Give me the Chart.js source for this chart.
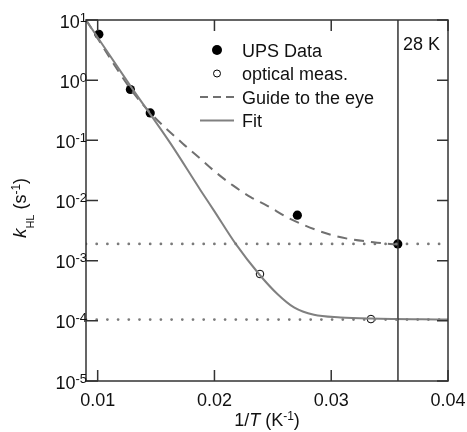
<!DOCTYPE html>
<html>
<head>
<meta charset="utf-8">
<script src="https://cdn.jsdelivr.net/npm/chart.js@4"></script>
<style>
  body { margin: 0; background: #fff; }
  canvas { display: block; }
</style>
</head>
<body>
<canvas id="grafico" width="467" height="432"></canvas>
<script>
// values
const upsX = [0.0101, 0.0128, 0.0145, 0.0271, 0.0357];
const upsY = [5.8, 0.70, 0.285, 0.0057, 0.0019];

const optX = [0.0239, 0.0334];
const optY = [6.0e-4, 1.07e-4];

const guideX = [0.009, 0.01283, 0.01454, 0.0173, 0.01873, 0.0201, 0.02158, 0.0231, 0.02453, 0.02644, 0.03021, 0.03363, 0.03574];
const guideY = [10, 0.708, 0.282, 0.088, 0.0507, 0.0296, 0.0178, 0.0114, 0.00816, 0.00501, 0.00261, 0.00202, 0.00185];

const fitX = [0.009, 0.01283, 0.01625, 0.01882, 0.01996, 0.02182, 0.02381, 0.02539, 0.02681, 0.02852, 0.0308, 0.03337, 0.04];
const fitY = [10, 0.79, 0.088, 0.0147, 0.0068, 0.0019, 6.0e-4, 2.79e-4, 1.67e-4, 1.26e-4, 1.14e-4, 1.09e-4, 1.05e-4];

const levels = [1.9e-3, 1.05e-4];
const tempK = 28;

const xMin = 0.009, xMax = 0.04;
const xTicks = [0.01, 0.02, 0.03, 0.04];
const yExp = [1, 0, -1, -2, -3, -4, -5];

const legendLabels = ['UPS Data', 'optical meas.', 'Guide to the eye', 'Fit'];

const FONT = "'Liberation Sans', Arial, sans-serif";
const INK = '#333';
const GRAY = '#808080';

const pts = (xs, ys) => xs.map((x, i) => ({ x: x, y: ys[i] }));

function fnt(p) {
  return (p.i ? 'italic ' : '') + (p.s || 18) + 'px ' + FONT;
}

function drawParts(ctx, parts, x, y, align) {
  let w = 0;
  parts.forEach(p => { ctx.font = fnt(p); w += ctx.measureText(p.t).width; });
  let cx = align === 'right' ? x - w : align === 'center' ? x - w / 2 : x;
  parts.forEach(p => {
    ctx.font = fnt(p);
    ctx.fillText(p.t, cx, y + (p.dy || 0));
    cx += ctx.measureText(p.t).width;
  });
}

const decor = {
  id: 'decor',
  afterDatasetsDraw(chart) {
    const ctx = chart.ctx;
    const a = chart.chartArea;
    const sx = chart.scales.x, sy = chart.scales.y;
    ctx.save();
    ctx.strokeStyle = INK;
    ctx.fillStyle = '#111';
    ctx.lineWidth = 1.5;
    ctx.strokeRect(a.left, a.top, a.right - a.left, a.bottom - a.top);

    // inward ticks
    ctx.beginPath();
    xTicks.forEach(v => {
      const px = sx.getPixelForValue(v);
      ctx.moveTo(px, a.bottom); ctx.lineTo(px, a.bottom - 11);
      ctx.moveTo(px, a.top); ctx.lineTo(px, a.top + 11);
    });
    yExp.forEach(e => {
      const py = sy.getPixelForValue(Math.pow(10, e));
      ctx.moveTo(a.left, py); ctx.lineTo(a.left + 12, py);
      ctx.moveTo(a.right, py); ctx.lineTo(a.right - 11, py);
    });
    ctx.stroke();

    // tick labels
    ctx.textBaseline = 'alphabetic';
    xTicks.forEach(v => {
      drawParts(ctx, [{ t: v.toFixed(2) }], sx.getPixelForValue(v), 406, 'center');
    });
    yExp.forEach(e => {
      const py = sy.getPixelForValue(Math.pow(10, e));
      drawParts(ctx, [{ t: '10' }, { t: String(e), s: 13, dy: -6 }], a.left + 1, py + 7.5, 'right');
    });

    // axis titles
    drawParts(ctx, [{ t: '1/' }, { t: 'T', i: true }, { t: ' (K' }, { t: '-1', s: 12, dy: -6 }, { t: ')' }],
      (a.left + a.right) / 2, 426, 'center');
    ctx.save();
    ctx.translate(26, 208);
    ctx.rotate(-Math.PI / 2);
    drawParts(ctx, [{ t: 'k', i: true, s: 19 }, { t: 'HL', s: 11, dy: 8 }, { t: ' (s' }, { t: '-1', s: 12, dy: -6 }, { t: ')' }],
      0, 0, 'center');
    ctx.restore();

    // temperature marker label
    drawParts(ctx, [{ t: tempK + ' K' }], sx.getPixelForValue(1 / tempK) + 5, 49.5, 'left');

    // legend
    const lx = 217, tx = 242;
    const rows = [50, 73.5, 97, 120.5];
    rows.forEach((ry, i) => {
      drawParts(ctx, [{ t: legendLabels[i] }], tx, ry + 6.5, 'left');
    });
    ctx.beginPath();
    ctx.arc(lx, rows[0], 5, 0, Math.PI * 2);
    ctx.fillStyle = '#000';
    ctx.fill();
    ctx.beginPath();
    ctx.arc(lx, rows[1], 3.5, 0, Math.PI * 2);
    ctx.lineWidth = 1;
    ctx.strokeStyle = '#000';
    ctx.stroke();
    ctx.lineWidth = 2;
    ctx.strokeStyle = '#707070';
    ctx.setLineDash([8, 5]);
    ctx.beginPath();
    ctx.moveTo(200, rows[2]); ctx.lineTo(234, rows[2]);
    ctx.stroke();
    ctx.setLineDash([]);
    ctx.strokeStyle = GRAY;
    ctx.beginPath();
    ctx.moveTo(200, rows[3]); ctx.lineTo(234, rows[3]);
    ctx.stroke();
    ctx.restore();
  }
};

const datasets = [];
levels.forEach(lv => {
  datasets.push({
    data: pts([xMin, xMax], [lv, lv]),
    showLine: true, pointRadius: 0,
    borderColor: '#7a7a7a', borderWidth: 2.8,
    borderDash: [0, 10.7], borderCapStyle: 'round'
  });
});
datasets.push({
  data: pts([1 / tempK, 1 / tempK], [1e-5, 10]),
  showLine: true, pointRadius: 0, borderColor: INK, borderWidth: 1.5
});
datasets.push({
  data: pts(fitX, fitY), showLine: true, pointRadius: 0,
  borderColor: GRAY, borderWidth: 2, cubicInterpolationMode: 'monotone'
});
datasets.push({
  data: pts(guideX, guideY), showLine: true, pointRadius: 0,
  borderColor: '#707070', borderWidth: 2, borderDash: [10, 7],
  cubicInterpolationMode: 'monotone'
});
datasets.push({
  data: pts(optX, optY), pointRadius: 3.8, pointBackgroundColor: '#fff',
  pointBorderColor: '#000', pointBorderWidth: 1
});
datasets.push({
  data: pts(upsX, upsY), pointRadius: 4.6, pointBackgroundColor: '#000',
  pointBorderColor: '#000', pointBorderWidth: 0
});

new Chart(document.getElementById('grafico').getContext('2d'), {
  type: 'scatter',
  data: { datasets: datasets },
  options: {
    responsive: false,
    animation: false,
    devicePixelRatio: 1,
    layout: { padding: { top: 20, right: 19, left: 0, bottom: 0 } },
    plugins: { legend: { display: false }, tooltip: { enabled: false } },
    scales: {
      x: {
        type: 'linear', min: xMin, max: xMax,
        ticks: { display: false }, grid: { display: false }, border: { display: false },
        afterFit(s) { s.height = 51; }
      },
      y: {
        type: 'logarithmic', min: 1e-5, max: 10,
        ticks: { display: false }, grid: { display: false }, border: { display: false },
        afterFit(s) { s.width = 86; }
      }
    }
  },
  plugins: [decor]
});
</script>
</body>
</html>
